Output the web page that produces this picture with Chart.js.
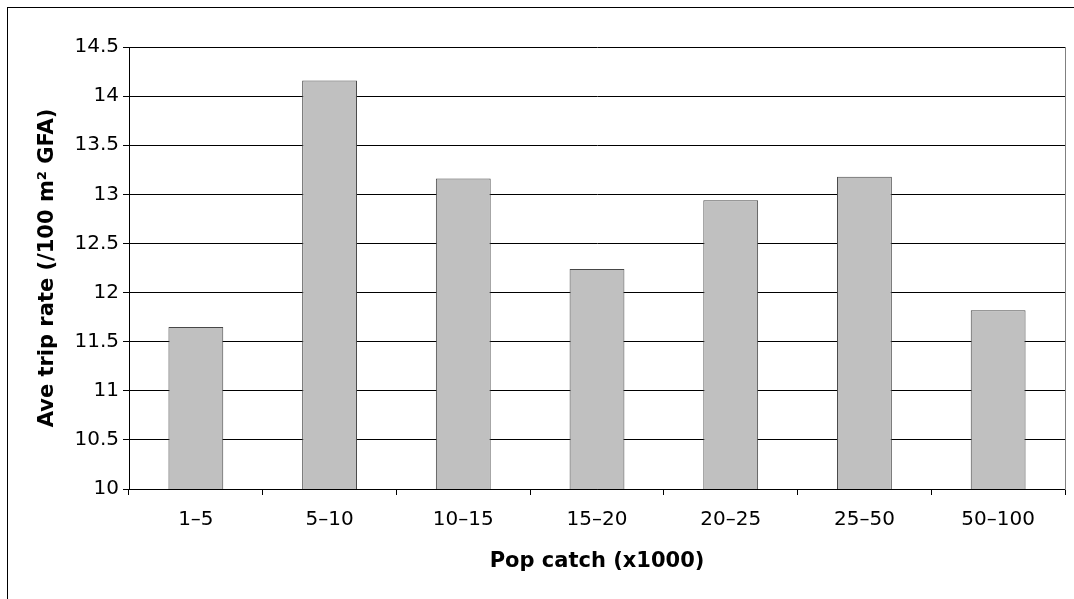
<!DOCTYPE html>
<html>
<head>
<meta charset="utf-8">
<title>Ave trip rate</title>
<script src="https://cdn.jsdelivr.net/npm/chart.js@4.4.1/dist/chart.umd.min.js"></script>
<style>
    html, body { margin: 0; padding: 0; background: #fff; overflow: hidden; }
    #wrap { position: relative; width: 1074px; height: 599px; }
    #bingkai { position: absolute; left: 7px; top: 7px; width: 1300px; height: 800px; border: 1px solid #000; }
    #chartTrip { position: absolute; left: 0; top: 0; }
</style>
</head>
<body>
<div id="wrap">
    <div id="bingkai"></div>
    <canvas id="chartTrip" width="1074" height="599"></canvas>
</div>
<script>
// data grafik
const kategoriPop = ['1–5', '5–10', '10–15', '15–20', '20–25', '25–50', '50–100'];
const nilaiTrip = [11.65, 14.16, 13.16, 12.24, 12.94, 13.18, 11.82];
const batasSumbuY = [10, 14.5];
const langkahSumbuY = 0.5;

const judulX = 'Pop catch (x1000)';
const judulY = 'Ave trip rate (/100 m² GFA)';

//START JS Diagram Balok Trip Rate
document.addEventListener('DOMContentLoaded', function () {
    const fontTick = { family: 'DejaVu Sans', size: 20 };
    const fontJudul = { family: 'DejaVu Sans', size: 21, weight: 'bold' };

    const config = {
        type: 'bar',
        data: {
            labels: kategoriPop,
            datasets: [{
                data: nilaiTrip,
                backgroundColor: '#c0c0c0',
                borderColor: '#484848',
                borderWidth: 1,
                categoryPercentage: 1,
                barPercentage: 0.41,
            }],
        },
        options: {
            responsive: false,
            animation: false,
            layout: {
                padding: { top: 47, right: 9, left: 0, bottom: 0 },
            },
            plugins: {
                legend: { display: false },
                tooltip: { enabled: false },
            },
            scales: {
                x: {
                    offset: true,
                    grid: {
                        offset: true,
                        drawOnChartArea: false,
                        drawTicks: true,
                        tickLength: 6,
                        tickColor: '#000',
                    },
                    border: { color: '#000', width: 1 },
                    ticks: { color: '#000', font: fontTick, padding: 13, maxRotation: 0 },
                    title: { display: true, text: judulX, color: '#000', font: fontJudul, padding: { top: 0, bottom: 25 } },
                    afterFit: function (scale) { scale.height = 110; },
                },
                y: {
                    min: batasSumbuY[0],
                    max: batasSumbuY[1],
                    grid: { color: '#000', tickColor: '#000', tickLength: 6 },
                    border: { color: '#000', width: 1 },
                    ticks: {
                        stepSize: langkahSumbuY,
                        color: '#000',
                        font: fontTick,
                        padding: 4,
                        // tampilkan 10, 10.5, 11 ... tanpa angka nol di belakang
                        callback: function (value) { return String(value); },
                    },
                    title: { display: true, text: judulY, color: '#000', font: fontJudul, padding: { top: 35, bottom: 0 } },
                    afterFit: function (scale) { scale.width = 129; },
                },
                yKanan: {
                    position: 'right',
                    min: batasSumbuY[0],
                    max: batasSumbuY[1],
                    grid: { display: false },
                    border: { display: true, color: '#808080', width: 1 },
                    ticks: { display: false },
                    afterFit: function (scale) { scale.width = 0; },
                },
            },
        },
    };

    const ctx = document.getElementById('chartTrip').getContext('2d');
    new Chart(ctx, config);
});
//END JS Diagram Balok Trip Rate
</script>
</body>
</html>
